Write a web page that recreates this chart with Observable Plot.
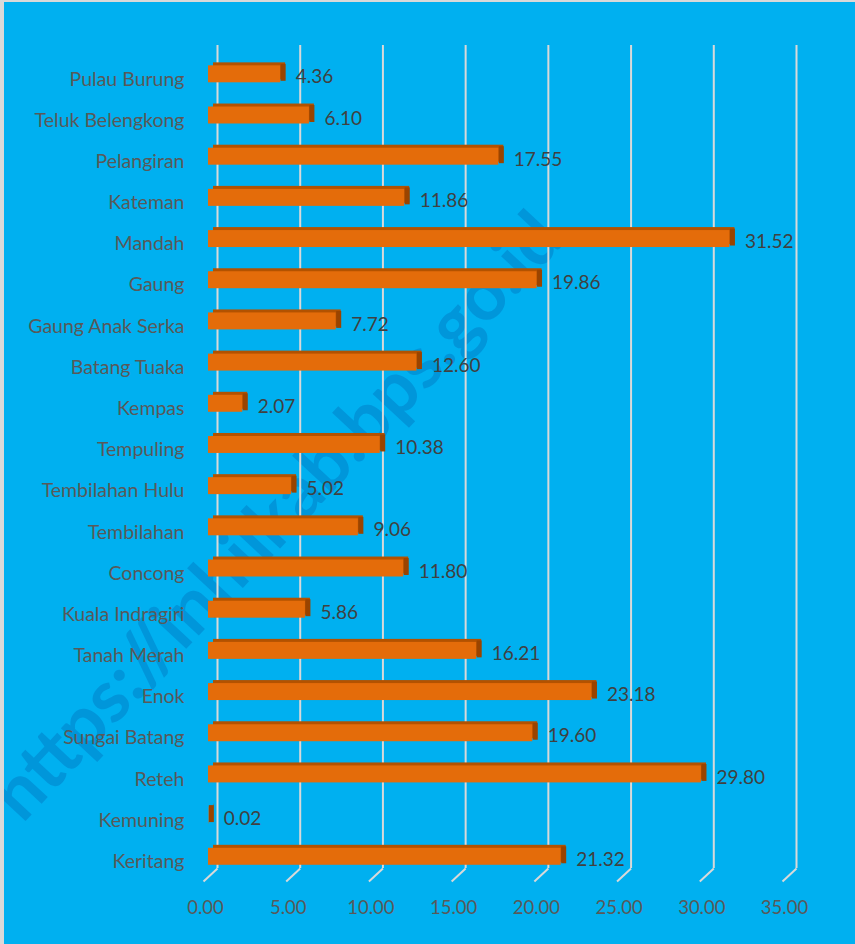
<!DOCTYPE html>
<html>
<head>
<meta charset="utf-8">
<script src="https://cdn.jsdelivr.net/npm/d3@7"></script>
<script src="https://cdn.jsdelivr.net/npm/@observablehq/plot@0.6"></script>
<style>
  html, body { margin: 0; padding: 0; background: #ffffff; }
  #wrap { position: relative; width: 855px; height: 944px; overflow: hidden; }
  #wrap::after { content: ""; position: absolute; left: 0; top: 0; right: 0; bottom: 0;
    border-top: 2px solid #D9D9D9; border-left: 4px solid #D9D9D9; pointer-events: none; }
  #wrap svg { display: block; }
</style>
</head>
<body>
<div id="wrap"></div>
<script>
const categories = [
  "Pulau Burung", "Teluk Belengkong", "Pelangiran", "Kateman", "Mandah",
  "Gaung", "Gaung Anak Serka", "Batang Tuaka", "Kempas", "Tempuling",
  "Tembilahan Hulu", "Tembilahan", "Concong", "Kuala Indragiri", "Tanah Merah",
  "Enok", "Sungai Batang", "Reteh", "Kemuning", "Keritang"
];
const values = [
  4.36, 6.10, 17.55, 11.86, 31.52,
  19.86, 7.72, 12.60, 2.07, 10.38,
  5.02, 9.06, 11.80, 5.86, 16.21,
  23.18, 19.60, 29.80, 0.02, 21.32
];
const tickValues = [0, 5, 10, 15, 20, 25, 30, 35];
const watermark = ["https://inhilkab.bps.go.id"];

const data = categories.map((name, i) => ({name, value: values[i], pos: i}));

const pxPerUnit = (855 - 208 - 68) / 35;
const half = 0.206;
const yTop = -0.7, yBackBottom = 19.285, yFront = 19.6;

const chart = Plot.plot({
  width: 855,
  height: 944,
  marginLeft: 208,
  marginRight: 68,
  marginTop: 45,
  marginBottom: 63,
  x: {domain: [0, 35], axis: null},
  y: {domain: [yTop, yFront], reverse: true, axis: null},
  style: {background: "#00B0F0", fontFamily: "Lato, 'Open Sans', sans-serif"},
  marks: [
    // watermark
    Plot.text(watermark, {
      frameAnchor: "top-left", dx: 48, dy: 452, rotate: -47,
      text: d => d, fontSize: 73, fontWeight: "bold",
      fill: "#005AAA", fillOpacity: 0.3, textAnchor: "middle"
    }),
    // back-wall gridlines
    Plot.ruleX(tickValues, {x: d => d, y1: yTop, y2: yBackBottom, dx: 9, stroke: "#D9D9D9", strokeWidth: 2}),
    // floor diagonals
    Plot.link(tickValues, {
      x1: d => d, x2: d => d - 14 / pxPerUnit, y1: yBackBottom, y2: yFront,
      dx: 9, stroke: "#D9D9D9", strokeWidth: 2
    }),
    // bar top face
    Plot.rectX(data, {x1: 0, x2: "value", y1: d => d.pos - half, y2: d => d.pos + half, dx: 5, dy: -3, fill: "#B35200"}),
    // bar side face
    Plot.ruleX(data, {x: "value", y1: d => d.pos - half, y2: d => d.pos + half, dx: 2.5, dy: -1.5, stroke: "#9A4400", strokeWidth: 5}),
    // bar front face
    Plot.rectX(data, {x1: 0, x2: "value", y1: d => d.pos - half, y2: d => d.pos + half, fill: "#E46C0A"}),
    // value labels
    Plot.text(data, {
      x: "value", y: "pos", text: d => d.value.toFixed(2), textAnchor: "start",
      dx: 15, dy: 3, fill: "#404040", fontSize: 19
    }),
    // category labels
    Plot.text(data, {
      x: 0, y: "pos", text: "name", textAnchor: "end",
      dx: -24, dy: 5, fill: "#595959", fontSize: 19.5
    }),
    // x tick labels
    Plot.text(tickValues, {
      x: d => d, y: yFront, text: d => d.toFixed(2),
      dx: -3, dy: 27, fill: "#595959", fontSize: 18.5
    })
  ]
});

document.getElementById("wrap").appendChild(chart);
</script>
</body>
</html>
